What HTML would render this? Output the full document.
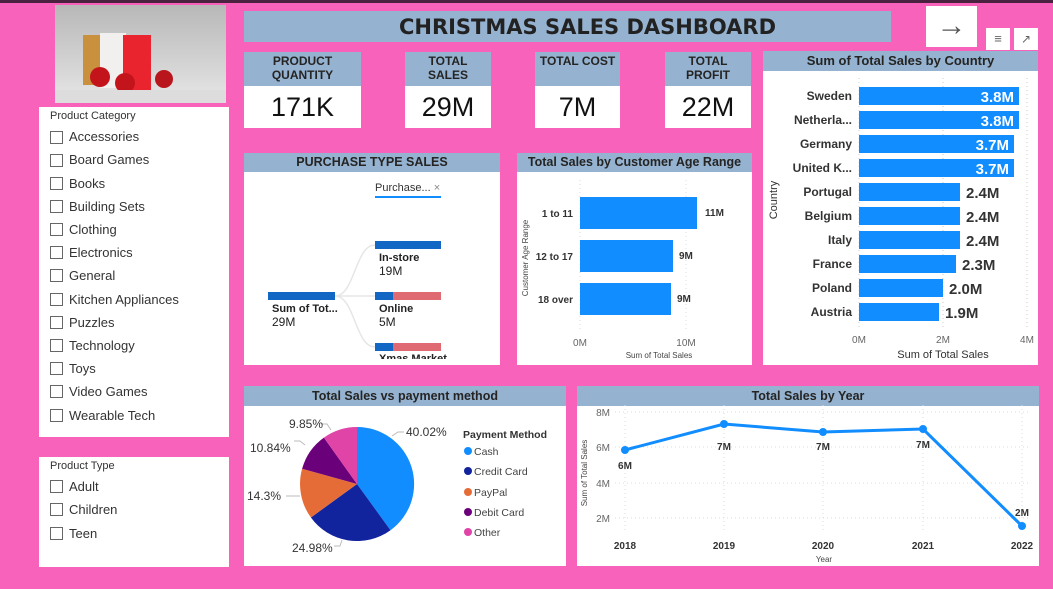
<!DOCTYPE html>
<html><head><meta charset="utf-8"><style>
*{margin:0;padding:0;box-sizing:border-box}
body{width:1053px;height:589px;background:#f862ba;position:relative;overflow:hidden;font-family:"Liberation Sans",sans-serif;color:#252423}
.a{position:absolute}
.w{background:#fff}
.hd{position:absolute;left:0;right:0;top:0;background:#95b3d0;text-align:center;font-weight:bold;color:#252423}
.cb{position:absolute;left:11px;width:13px;height:13px;border:1px solid #666;background:#fff}
.it{position:absolute;left:30px;font-size:13px;color:#333}
.kh{position:absolute;left:0;right:0;top:0;height:34px;background:#95b3d0;text-align:center;font-weight:bold;font-size:12px;line-height:14px;padding-top:2px;color:#252423}
.kv{position:absolute;left:0;right:0;top:34px;bottom:0;background:#fff;text-align:center;font-size:27px;line-height:42px;color:#111}
</style></head><body>
<div class="a" style="left:0;top:0;width:1053px;height:3px;background:#4a2240"></div>
<div class="a" style="left:55px;top:5px;width:171px;height:98px;background:linear-gradient(#b8b8b8,#d8d8d8 70%,#e8e8e8);overflow:hidden">
<div class="a" style="left:28px;top:30px;width:22px;height:50px;background:#c9913e"></div>
<div class="a" style="left:45px;top:28px;width:26px;height:55px;background:#f2efef"></div>
<div class="a" style="left:68px;top:30px;width:28px;height:55px;background:#e9242f"></div>
<div class="a" style="left:35px;top:62px;width:20px;height:20px;border-radius:50%;background:#c3141c"></div>
<div class="a" style="left:60px;top:68px;width:20px;height:20px;border-radius:50%;background:#c3141c"></div>
<div class="a" style="left:100px;top:65px;width:18px;height:18px;border-radius:50%;background:#b9151c"></div>
<div class="a" style="left:0;top:85px;width:171px;height:13px;background:#ddd"></div>
</div>
<div class="a w" style="left:39px;top:107px;width:190px;height:330px">
<div class="a" style="left:11px;top:3px;font-size:11px;color:#333">Product Category</div>
<div class="cb" style="top:24px"></div><div class="it" style="top:22px">Accessories</div>
<div class="cb" style="top:47px"></div><div class="it" style="top:45px">Board Games</div>
<div class="cb" style="top:70px"></div><div class="it" style="top:69px">Books</div>
<div class="cb" style="top:93px"></div><div class="it" style="top:92px">Building Sets</div>
<div class="cb" style="top:116px"></div><div class="it" style="top:115px">Clothing</div>
<div class="cb" style="top:139px"></div><div class="it" style="top:138px">Electronics</div>
<div class="cb" style="top:162px"></div><div class="it" style="top:161px">General</div>
<div class="cb" style="top:186px"></div><div class="it" style="top:185px">Kitchen Appliances</div>
<div class="cb" style="top:209px"></div><div class="it" style="top:208px">Puzzles</div>
<div class="cb" style="top:232px"></div><div class="it" style="top:231px">Technology</div>
<div class="cb" style="top:255px"></div><div class="it" style="top:254px">Toys</div>
<div class="cb" style="top:278px"></div><div class="it" style="top:277px">Video Games</div>
<div class="cb" style="top:302px"></div><div class="it" style="top:301px">Wearable Tech</div>
</div>
<div class="a w" style="left:39px;top:457px;width:190px;height:110px">
<div class="a" style="left:11px;top:3px;font-size:11px;color:#333">Product Type</div>
<div class="cb" style="top:23px"></div><div class="it" style="top:22px">Adult</div>
<div class="cb" style="top:46px"></div><div class="it" style="top:45px">Children</div>
<div class="cb" style="top:70px"></div><div class="it" style="top:69px">Teen</div>
</div>
<div class="a" style="left:244px;top:11px;width:647px;height:31px;background:#95b3d0;text-align:center;font-family:'DejaVu Sans',sans-serif;font-weight:bold;font-size:21px;line-height:33px;color:#222;padding-left:40px">CHRISTMAS SALES DASHBOARD</div>
<div class="a w" style="left:926px;top:6px;width:51px;height:41px;text-align:center;font-size:30px;line-height:40px;color:#555">&#8594;</div>
<div class="a w" style="left:986px;top:28px;width:24px;height:22px;text-align:center;font-size:13px;line-height:22px;color:#666">&#8801;</div>
<div class="a w" style="left:1014px;top:28px;width:24px;height:22px;text-align:center;font-size:12px;line-height:22px;color:#666">&#8599;</div>
<div class="a" style="left:244px;top:52px;width:117px;height:76px"><div class="kh">PRODUCT<br>QUANTITY</div><div class="kv">171K</div></div>
<div class="a" style="left:405px;top:52px;width:86px;height:76px"><div class="kh">TOTAL<br>SALES</div><div class="kv">29M</div></div>
<div class="a" style="left:535px;top:52px;width:85px;height:76px"><div class="kh">TOTAL COST</div><div class="kv">7M</div></div>
<div class="a" style="left:665px;top:52px;width:86px;height:76px"><div class="kh">TOTAL<br>PROFIT</div><div class="kv">22M</div></div>
<div class="a w" style="left:763px;top:51px;width:275px;height:314px">
<div class="hd" style="height:20px;font-size:13px;line-height:20px">Sum of Total Sales by Country</div>
</div>
<svg class="a" style="left:0;top:0" width="1053" height="589" font-family="Liberation Sans, sans-serif">
<g stroke="#ccc" stroke-dasharray="1,3"><line x1="859" y1="78" x2="859" y2="328"/><line x1="943" y1="78" x2="943" y2="328"/><line x1="1027" y1="78" x2="1027" y2="328"/></g>
<g fill="#118dff">
<rect x="859" y="87" width="160" height="18"/><rect x="859" y="111" width="160" height="18"/>
<rect x="859" y="135" width="155" height="18"/><rect x="859" y="159" width="155" height="18"/>
<rect x="859" y="183" width="101" height="18"/><rect x="859" y="207" width="101" height="18"/>
<rect x="859" y="231" width="101" height="18"/><rect x="859" y="255" width="97" height="18"/>
<rect x="859" y="279" width="84" height="18"/><rect x="859" y="303" width="80" height="18"/></g>
<g font-size="12" font-weight="bold" fill="#333" text-anchor="end">
<text x="852" y="100">Sweden</text><text x="852" y="124">Netherla...</text><text x="852" y="148">Germany</text><text x="852" y="172">United K...</text><text x="852" y="196">Portugal</text><text x="852" y="220">Belgium</text><text x="852" y="244">Italy</text><text x="852" y="268">France</text><text x="852" y="292">Poland</text><text x="852" y="316">Austria</text></g>
<g font-size="15" font-weight="bold" fill="#fff" text-anchor="end"><text x="1014" y="102">3.8M</text><text x="1014" y="126">3.8M</text><text x="1009" y="150">3.7M</text><text x="1009" y="174">3.7M</text></g>
<g font-size="15" font-weight="bold" fill="#333"><text x="966" y="198">2.4M</text><text x="966" y="222">2.4M</text><text x="966" y="246">2.4M</text><text x="962" y="270">2.3M</text><text x="949" y="294">2.0M</text><text x="945" y="318">1.9M</text></g>
<g font-size="10" fill="#666" text-anchor="middle"><text x="859" y="343">0M</text><text x="943" y="343">2M</text><text x="1027" y="343">4M</text></g>
<text x="943" y="358" font-size="11" fill="#333" text-anchor="middle">Sum of Total Sales</text>
<text x="777" y="200" font-size="11" fill="#333" text-anchor="middle" transform="rotate(-90 777 200)">Country</text>
</svg>
<div class="a w" style="left:244px;top:153px;width:256px;height:212px">
<div class="hd" style="height:19px;font-size:12.5px;line-height:19px">PURCHASE TYPE SALES</div>
<div class="a" style="left:131px;top:29px;font-size:11px;color:#333">Purchase... <span style="color:#888">&#215;</span></div>
<div class="a" style="left:131px;top:43px;width:66px;height:2px;background:#118dff"></div>
</div>
<div class="a w" style="left:517px;top:153px;width:235px;height:212px">
<div class="hd" style="height:19px;font-size:12.5px;line-height:19px">Total Sales by Customer Age Range</div>
</div>
<div class="a w" style="left:244px;top:386px;width:322px;height:180px">
<div class="hd" style="height:20px;font-size:12.5px;line-height:20px">Total Sales vs payment method</div>
</div>
<div class="a w" style="left:577px;top:386px;width:462px;height:180px">
<div class="hd" style="height:20px;font-size:12.5px;line-height:20px">Total Sales by Year</div>
</div>
<svg class="a" style="left:0;top:0" width="1053" height="589" font-family="Liberation Sans, sans-serif">
<g fill="none" stroke="#e6e6e6" stroke-width="1.5"><path d="M335 296 C355 296,355 245,375 245"/><path d="M335 296 L375 296"/><path d="M335 296 C355 296,355 347,375 347"/></g>
<rect x="268" y="292" width="67" height="8" fill="#1267c4"/>
<rect x="375" y="241" width="66" height="8" fill="#1267c4"/>
<rect x="375" y="292" width="18" height="8" fill="#1267c4"/><rect x="393" y="292" width="48" height="8" fill="#e06a72"/>
<rect x="375" y="343" width="18" height="8" fill="#1267c4"/><rect x="393" y="343" width="48" height="8" fill="#e06a72"/>
<g font-size="11" fill="#222"><text x="272" y="312" font-weight="bold">Sum of Tot...</text><text x="272" y="326" font-size="12">29M</text>
<text x="379" y="261" font-weight="bold">In-store</text><text x="379" y="275" font-size="12">19M</text>
<text x="379" y="312" font-weight="bold">Online</text><text x="379" y="326" font-size="12">5M</text></g>
<svg x="375" y="352" width="80" height="7"><text x="4" y="10" font-size="11" font-weight="bold" fill="#222">Xmas Market</text></svg>
<g stroke="#ddd" stroke-dasharray="1,3"><line x1="580" y1="180" x2="580" y2="330"/><line x1="686" y1="180" x2="686" y2="330"/></g>
<g fill="#118dff"><rect x="580" y="197" width="117" height="32"/><rect x="580" y="240" width="93" height="32"/><rect x="580" y="283" width="91" height="32"/></g>
<g font-size="10" font-weight="bold" fill="#333" text-anchor="end"><text x="573" y="217">1 to 11</text><text x="573" y="260">12 to 17</text><text x="573" y="303">18 over</text></g>
<g font-size="10" font-weight="bold" fill="#333"><text x="705" y="216">11M</text><text x="679" y="259">9M</text><text x="677" y="302">9M</text></g>
<g font-size="10" fill="#666" text-anchor="middle"><text x="580" y="346">0M</text><text x="686" y="346">10M</text></g>
<text x="659" y="358" font-size="8" fill="#444" text-anchor="middle">Sum of Total Sales</text>
<text x="528" y="258" font-size="8" fill="#444" text-anchor="middle" transform="rotate(-90 528 258)">Customer Age Range</text>
<path d="M357 484 L357 427 A57 57 0 0 1 390.5 530.2Z" fill="#118dff"/>
<path d="M357 484 L390.5 530.2 A57 57 0 0 1 310.9 517.5Z" fill="#12239e"/>
<path d="M357 484 L310.9 517.5 A57 57 0 0 1 302.1 468.8Z" fill="#e66c37"/>
<path d="M357 484 L302.1 468.8 A57 57 0 0 1 323.9 437.6Z" fill="#6b007b"/>
<path d="M357 484 L323.9 437.6 A57 57 0 0 1 357 427Z" fill="#e044a7"/>
<g stroke="#bbb" fill="none"><path d="M392 436 L398 432 L404 432"/><path d="M331 430 L327 424 L321 424"/><path d="M305 445 L300 441 L294 441"/><path d="M300 496 L286 496"/><path d="M342 540 L340 546 L334 546"/></g>
<g font-size="12" fill="#333"><text x="406" y="436">40.02%</text><text x="289" y="428">9.85%</text><text x="250" y="452">10.84%</text><text x="247" y="500">14.3%</text><text x="292" y="552">24.98%</text></g>
<text x="463" y="438" font-size="10.5" font-weight="bold" fill="#333">Payment Method</text>
<g font-size="10.5" fill="#444"><circle cx="468" cy="451" r="4" fill="#118dff"/><text x="474" y="455">Cash</text>
<circle cx="468" cy="471" r="4" fill="#12239e"/><text x="474" y="475">Credit Card</text>
<circle cx="468" cy="492" r="4" fill="#e66c37"/><text x="474" y="496">PayPal</text>
<circle cx="468" cy="512" r="4" fill="#6b007b"/><text x="474" y="516">Debit Card</text>
<circle cx="468" cy="532" r="4" fill="#e044a7"/><text x="474" y="536">Other</text></g>
<g stroke="#ddd" stroke-dasharray="1,3"><line x1="615" y1="412" x2="1030" y2="412"/><line x1="615" y1="447" x2="1030" y2="447"/><line x1="615" y1="483" x2="1030" y2="483"/><line x1="615" y1="518" x2="1030" y2="518"/>
<line x1="625" y1="405" x2="625" y2="530"/><line x1="724" y1="405" x2="724" y2="530"/><line x1="823" y1="405" x2="823" y2="530"/><line x1="923" y1="405" x2="923" y2="530"/><line x1="1022" y1="405" x2="1022" y2="530"/></g>
<polyline points="625,450 724,424 823,432 923,429 1022,526" fill="none" stroke="#118dff" stroke-width="3"/>
<g fill="#118dff"><circle cx="625" cy="450" r="4"/><circle cx="724" cy="424" r="4"/><circle cx="823" cy="432" r="4"/><circle cx="923" cy="429" r="4"/><circle cx="1022" cy="526" r="4"/></g>
<g font-size="10" font-weight="bold" fill="#333" text-anchor="middle"><text x="625" y="469">6M</text><text x="724" y="450">7M</text><text x="823" y="450">7M</text><text x="923" y="448">7M</text><text x="1022" y="516">2M</text>
<text x="625" y="549">2018</text><text x="724" y="549">2019</text><text x="823" y="549">2020</text><text x="923" y="549">2021</text><text x="1022" y="549">2022</text></g>
<g font-size="10" fill="#666" text-anchor="end"><text x="610" y="416">8M</text><text x="610" y="451">6M</text><text x="610" y="487">4M</text><text x="610" y="522">2M</text></g>
<text x="824" y="562" font-size="8" fill="#444" text-anchor="middle">Year</text>
<text x="587" y="473" font-size="8" fill="#444" text-anchor="middle" transform="rotate(-90 587 473)">Sum of Total Sales</text>
</svg>
</body></html>
